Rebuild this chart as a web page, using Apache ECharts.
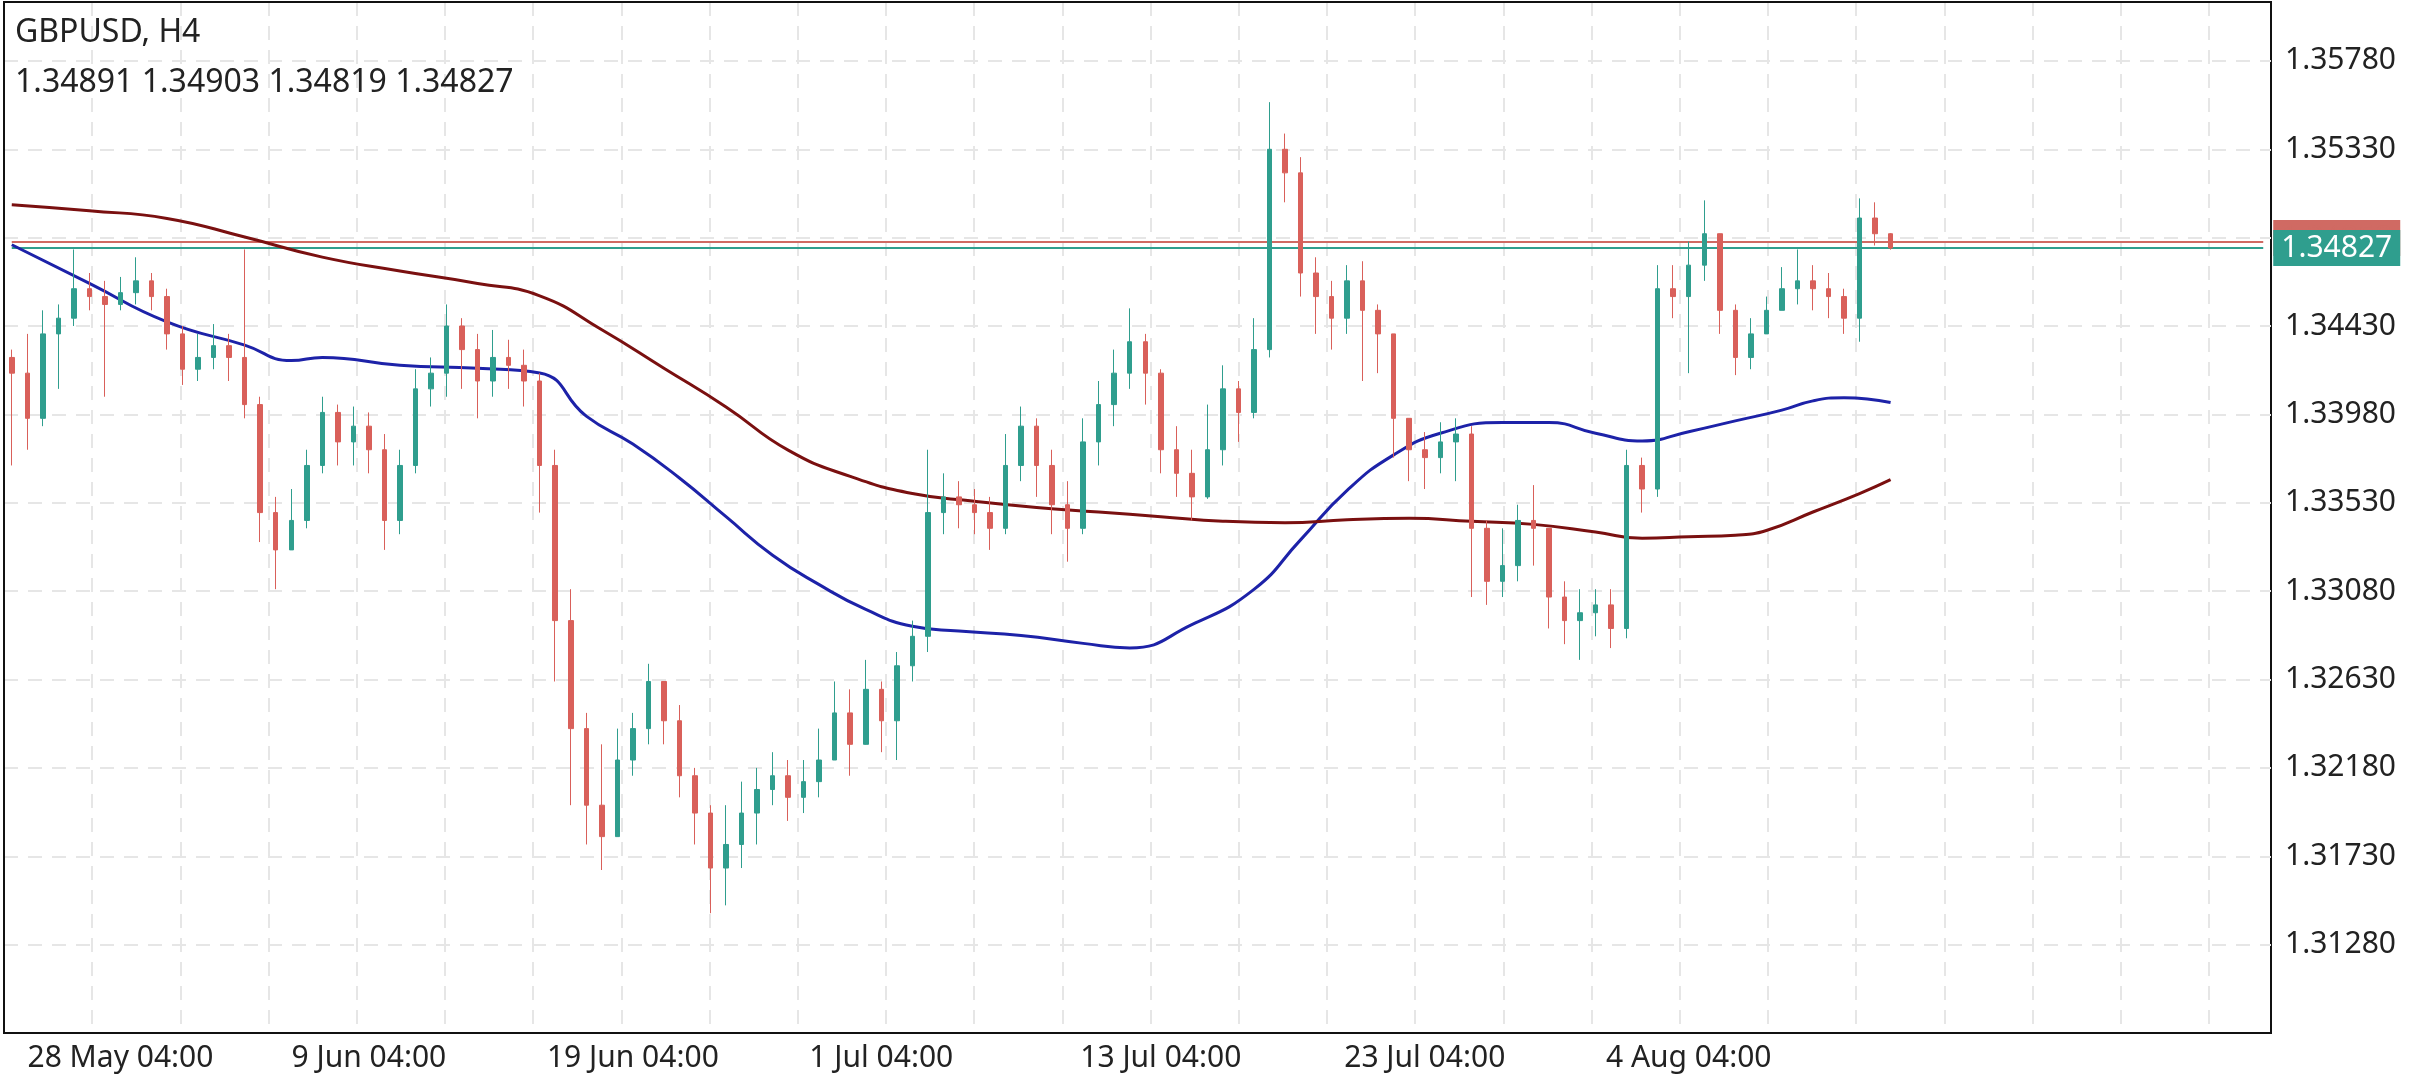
<!DOCTYPE html>
<html><head><meta charset="utf-8">
<script src="https://cdn.jsdelivr.net/npm/echarts@6/dist/echarts.min.js"></script>
<style>html,body{margin:0;padding:0;background:#fff}#c{width:2436px;height:1080px}</style>
</head><body><div id="c"></div>
<script>
const symbolName = 'GBPUSD, H4';
const ohlcHeader = '1.34891 1.34903 1.34819 1.34827';
const firstOpen = 1.3427;
const closes = [1.3419,1.3396,1.3439,1.3447,1.3462,1.3458,1.3454,1.3460,1.3466,1.3458,
1.3439,1.3421,1.3427,1.3433,1.3427,1.3403,1.3348,1.3329,1.3344,1.3372,
1.3399,1.3384,1.3392,1.3380,1.3344,1.3372,1.3411,1.3419,1.3443,1.3431,
1.3415,1.3427,1.3423,1.3415,1.3372,1.3293,1.3238,1.3199,1.3183,1.3222,
1.3238,1.3262,1.3242,1.3214,1.3195,1.3167,1.3179,1.3195,1.3207,1.3214,
1.3203,1.3211,1.3222,1.3246,1.3230,1.3258,1.3242,1.3270,1.3285,1.3348,
1.3356,1.3352,1.3348,1.3340,1.3372,1.3392,1.3372,1.3352,1.3340,1.3384,
1.3403,1.3419,1.3435,1.3419,1.3380,1.3368,1.3356,1.3380,1.3411,1.3399,
1.3431,1.3533,1.3521,1.3470,1.3458,1.3447,1.3466,1.3451,1.3439,1.3396,
1.3380,1.3376,1.3384,1.3388,1.3340,1.3313,1.3321,1.3344,1.3340,1.3305,
1.3293,1.3297,1.3301,1.3289,1.3372,1.3360,1.3462,1.3458,1.3474,1.3490,
1.3451,1.3427,1.3439,1.3451,1.3462,1.3466,1.3462,1.3458,1.3447,1.3498,
1.3490,1.34827];
const highs = [1.3431,1.3439,1.3451,1.3454,1.3482,1.3470,1.3466,1.3468,1.3478,1.3470,
1.3462,1.3443,1.3439,1.3444,1.3439,1.3482,1.3407,1.3356,1.3360,1.3380,
1.3407,1.3403,1.3402,1.3399,1.3388,1.3380,1.3421,1.3427,1.3454,1.3447,
1.3439,1.3441,1.3436,1.3431,1.3419,1.3380,1.3309,1.3246,1.3230,1.3238,
1.3246,1.3271,1.3262,1.3250,1.3218,1.3199,1.3199,1.3211,1.3218,1.3226,
1.3222,1.3222,1.3238,1.3262,1.3258,1.3273,1.3262,1.3277,1.3293,1.3380,
1.3368,1.3364,1.3360,1.3356,1.3388,1.3402,1.3396,1.3380,1.3364,1.3396,
1.3415,1.3431,1.3452,1.3439,1.3421,1.3392,1.3380,1.3403,1.3423,1.3415,
1.3447,1.3557,1.3541,1.3529,1.3478,1.3466,1.3474,1.3476,1.3454,1.3439,
1.3396,1.3389,1.3394,1.3396,1.3392,1.3344,1.3340,1.3352,1.3362,1.3340,
1.3313,1.3309,1.3309,1.3309,1.3380,1.3376,1.3474,1.3474,1.3486,1.3507,
1.3482,1.3454,1.3447,1.3458,1.3473,1.3482,1.3474,1.3470,1.3462,1.3508,
1.3506,1.34903];
const lows = [1.3372,1.3380,1.3392,1.3411,1.3443,1.3451,1.3407,1.3451,1.3454,1.3451,
1.3431,1.3413,1.3415,1.3421,1.3415,1.3396,1.3333,1.3309,1.3329,1.3340,
1.3368,1.3372,1.3372,1.3368,1.3329,1.3337,1.3368,1.3402,1.3407,1.3411,
1.3396,1.3407,1.3411,1.3402,1.3348,1.3262,1.3199,1.3179,1.3166,1.3183,
1.3214,1.3230,1.3230,1.3203,1.3179,1.3144,1.3148,1.3167,1.3179,1.3199,
1.3191,1.3195,1.3203,1.3222,1.3214,1.3238,1.3226,1.3222,1.3262,1.3277,
1.3337,1.3340,1.3337,1.3329,1.3337,1.3364,1.3356,1.3337,1.3323,1.3337,
1.3372,1.3392,1.3411,1.3403,1.3368,1.3356,1.3344,1.3355,1.3372,1.3384,
1.3396,1.3427,1.3506,1.3458,1.3439,1.3431,1.3439,1.3415,1.3419,1.3376,
1.3364,1.3360,1.3368,1.3364,1.3305,1.3301,1.3305,1.3313,1.3321,1.3289,
1.3281,1.3273,1.3285,1.3279,1.3284,1.3348,1.3356,1.3447,1.3419,1.3466,
1.3439,1.3418,1.3421,1.3439,1.3451,1.3454,1.3451,1.3447,1.3439,1.3435,
1.3484,1.34819];
// moving averages read at sampled bar indices [index, value]
const maFast = [[0,1.34844],[5,1.34647],[10,1.34451],[15,1.34333],[18,1.34254],[20,1.34270],[25,1.34230],[30,1.34215],[34,1.34191],[37,1.33971],[40,1.33829],[43,1.33656],[46,1.33459],[49,1.33263],[52,1.33113],[55,1.32987],[58,1.32901],[61,1.32877],[65,1.32854],[69,1.32814],[72,1.32791],[76,1.32909],[80,1.33089],[83,1.33341],[86,1.33593],[89,1.33774],[92,1.33884],[96,1.33939],[99,1.33939],[102,1.33884],[105,1.33845],[108,1.33892],[111,1.33947],[114,1.34002],[116,1.34049],[118,1.34065],[121,1.34041]];
const maSlow = [[0,1.35048],[5,1.35017],[10,1.34978],[15,1.34883],[20,1.34781],[25,1.34710],[30,1.34647],[34,1.34584],[38,1.34411],[42,1.34215],[46,1.34018],[50,1.33798],[54,1.33664],[58,1.33577],[62,1.33538],[66,1.33506],[70,1.33483],[74,1.33459],[78,1.33436],[82,1.33428],[86,1.33444],[90,1.33451],[94,1.33436],[98,1.33420],[102,1.33381],[105,1.33349],[108,1.33357],[111,1.33365],[113,1.33389],[116,1.33483],[119,1.33577],[121,1.33648]];
const bidPrice = 1.34827, askPrice = 1.34858;
const tickLabelIdx = [7,23,40,56,74,91,108];
const tickLabelText = ['28 May 04:00','9 Jun 04:00','19 Jun 04:00','1 Jul 04:00','13 Jul 04:00','23 Jul 04:00','4 Aug 04:00'];
const totalSlots = 146;

const cats = Array.from({length:totalSlots},(_,i)=>{const k=tickLabelIdx.indexOf(i);return k>=0?tickLabelText[k]:'c'+i;});
const candles = closes.map((c,i)=>[i===0?firstOpen:closes[i-1], c, lows[i], highs[i]]);
function sparse(pts){const a=new Array(closes.length).fill('-');pts.forEach(p=>a[p[0]]=p[1]);return a;}
const UP='#2f9e8e', DN='#d9605a', ASK='#d06a63';
const flat = v => new Array(totalSlots).fill(v);
const chart = echarts.init(document.getElementById('c'));
chart.setOption({
  animation:false,
  title:[{text:symbolName,left:10,top:12,textStyle:{fontFamily:'Noto Sans',fontSize:32,fontWeight:'normal',color:'#222'}},
         {text:ohlcHeader,left:10,top:62,textStyle:{fontFamily:'Noto Sans',fontSize:32,fontWeight:'normal',color:'#222'}}],
  grid:{left:4,top:2,right:165,bottom:47,show:true,borderColor:'#111',borderWidth:2},
  xAxis:[{type:'category',data:cats,boundaryGap:true,
    axisLine:{lineStyle:{color:'#111',width:2}},axisTick:{show:false},splitLine:{show:false},
    axisLabel:{interval:0,formatter:v=>/^c\d+$/.test(v)?'':v,fontFamily:'Noto Sans',fontSize:30,color:'#222',margin:10}},
   {type:'value',min:0,max:2262,interval:88,position:'top',axisLine:{show:true,lineStyle:{color:'#111',width:2}},axisTick:{show:false},axisLabel:{show:false},
    splitLine:{show:true,showMaxLine:false,lineStyle:{color:'#e6e6e6',type:[14,10],width:2}}}],
  yAxis:{type:'value',position:'right',min:1.3083,max:1.3608,interval:0.0045,
    axisLine:{show:true,lineStyle:{color:'#111',width:2}},axisTick:{show:false},
    axisLabel:{showMinLabel:false,showMaxLabel:false,formatter:v=>v.toFixed(5),fontFamily:'Noto Sans',fontSize:30,color:'#222',margin:14},
    splitLine:{show:true,lineStyle:{color:'#e6e6e6',type:[14,10],width:2}}},
  series:[
    {type:'line',data:flat(askPrice),showSymbol:false,silent:true,lineStyle:{color:ASK,width:2},z:2,
     endLabel:{show:true,formatter:()=>askPrice.toFixed(5),color:ASK,backgroundColor:ASK,fontFamily:'Noto Sans',fontSize:30,padding:[4,8,2,8],distance:10,offset:[0,-4]}},
    {type:'line',data:flat(bidPrice),showSymbol:false,silent:true,lineStyle:{color:UP,width:2},z:2,
     endLabel:{show:true,formatter:()=>bidPrice.toFixed(5),color:'#fff',backgroundColor:UP,fontFamily:'Noto Sans',fontSize:30,padding:[4,8,2,8],distance:10}},
    {type:'candlestick',data:candles,barWidth:5,z:4,
     itemStyle:{color:UP,color0:DN,borderColor:UP,borderColor0:DN,borderWidth:1}},
    {type:'line',data:sparse(maFast),connectNulls:true,smooth:true,showSymbol:false,lineStyle:{color:'#1d22a8',width:3},z:3},
    {type:'line',data:sparse(maSlow),connectNulls:true,smooth:true,showSymbol:false,lineStyle:{color:'#7a1010',width:3},z:3}
  ]
});
</script></body></html>
